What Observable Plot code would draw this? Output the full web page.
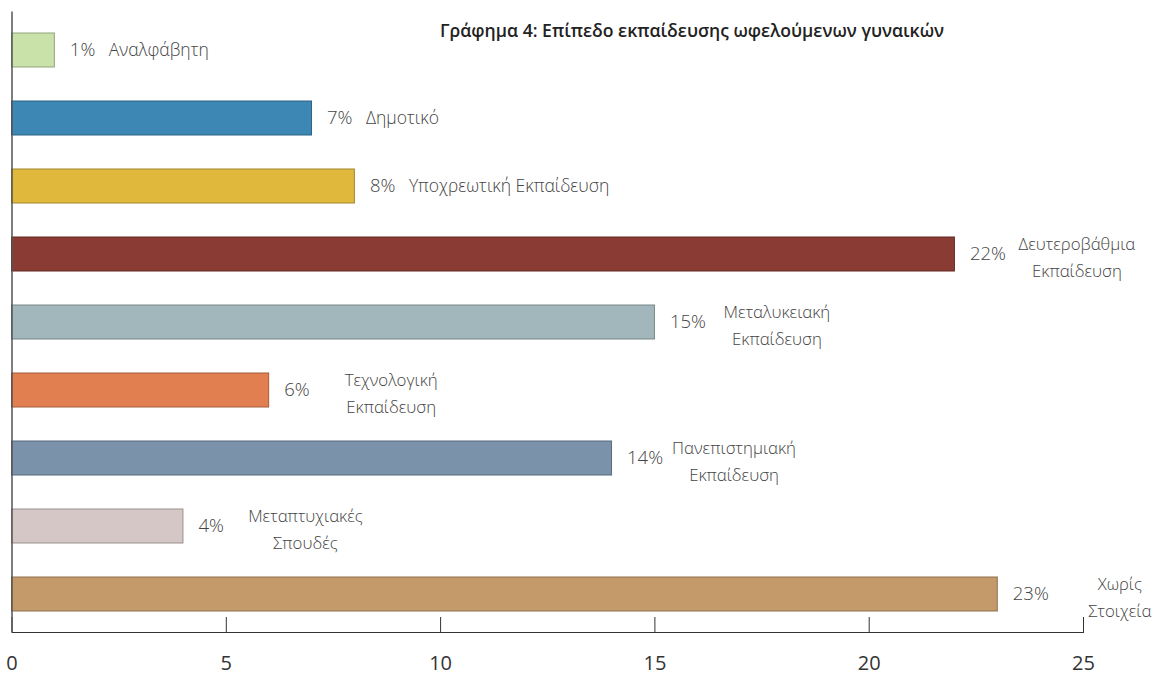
<!DOCTYPE html>
<html>
<head>
<meta charset="utf-8">
<script src="https://cdn.jsdelivr.net/npm/d3@7"></script>
<script src="https://cdn.jsdelivr.net/npm/@observablehq/plot@0.6"></script>
<style>
  html, body { margin: 0; padding: 0; background: #fff; }
  #wrap { position: relative; width: 1157px; height: 677px; font-family: "Open Sans", sans-serif; }
  #title { position: absolute; left: 440px; top: 18px; font-size: 17.6px; font-weight: 600; color: #222; white-space: nowrap; }
</style>
</head>
<body>
<div id="wrap">
  <div id="chart"></div>
  <div id="title">Γράφημα 4: Επίπεδο εκπαίδευσης ωφελούμενων γυναικών</div>
</div>
<script>
const categories = [
  "Αναλφάβητη",
  "Δημοτικό",
  "Υποχρεωτική Εκπαίδευση",
  "Δευτεροβάθμια\nΕκπαίδευση",
  "Μεταλυκειακή\nΕκπαίδευση",
  "Τεχνολογική\nΕκπαίδευση",
  "Πανεπιστημιακή\nΕκπαίδευση",
  "Μεταπτυχιακές\nΣπουδές",
  "Χωρίς\nΣτοιχεία"
];
const values = [1, 7, 8, 22, 15, 6, 14, 4, 23];
const colors = ["#c8e2a9", "#3d87b5", "#e0b93c", "#8a3b33", "#a2b7bb", "#e17f50", "#7a93aa", "#d5c7c5", "#c49a6b"];
const xTicks = [0, 5, 10, 15, 20, 25];

const data = categories.map((c, i) => ({category: c, value: values[i], color: colors[i]}));
const single = data.filter(d => !d.category.includes("\n"));
const multi = data.filter(d => d.category.includes("\n"));

const chart = Plot.plot({
  width: 1157,
  height: 677,
  marginTop: 11.5,
  marginBottom: 45,
  marginLeft: 11.5,
  marginRight: 74,
  style: {fontFamily: "Open Sans, sans-serif", background: "#fff", color: "#333"},
  x: {domain: [0, 25], ticks: xTicks, tickSize: -15, tickPadding: 38, line: true, label: null, tickFormat: d => d},
  y: {domain: categories, axis: null, paddingInner: 0.5, paddingOuter: 0.25},
  color: {domain: categories, range: colors},
  marks: [
    Plot.barX(data, {
      y: "category",
      x: "value",
      fill: "category",
      stroke: d => d3.color(d.color).darker(0.9).formatHex(),
      strokeWidth: 1
    }),
    Plot.ruleX([0], {stroke: "#555", strokeWidth: 1.5}),
    Plot.text(data, {
      y: "category",
      x: "value",
      text: d => d.value + "%",
      textAnchor: "start",
      dx: 15,
      fontSize: 18.5,
      fontWeight: 300,
      fill: "#444"
    }),
    Plot.text(single, {
      y: "category",
      x: "value",
      text: "category",
      textAnchor: "start",
      dx: 54,
      fontSize: 17.5,
      fontWeight: 300,
      fill: "#444"
    }),
    Plot.text(multi, {
      y: "category",
      x: "value",
      text: "category",
      textAnchor: "middle",
      dx: 122,
      lineHeight: 1.6,
      fontSize: 16.8,
      fontWeight: 300,
      fill: "#444"
    })
  ]
});
chart.style.fontSize = "20px";
d3.select(chart).selectAll("g[aria-label='x-axis tick label'] text, g[aria-label='x-axis'] text").attr("font-size", 20);
document.getElementById("chart").appendChild(chart);
</script>
</body>
</html>
